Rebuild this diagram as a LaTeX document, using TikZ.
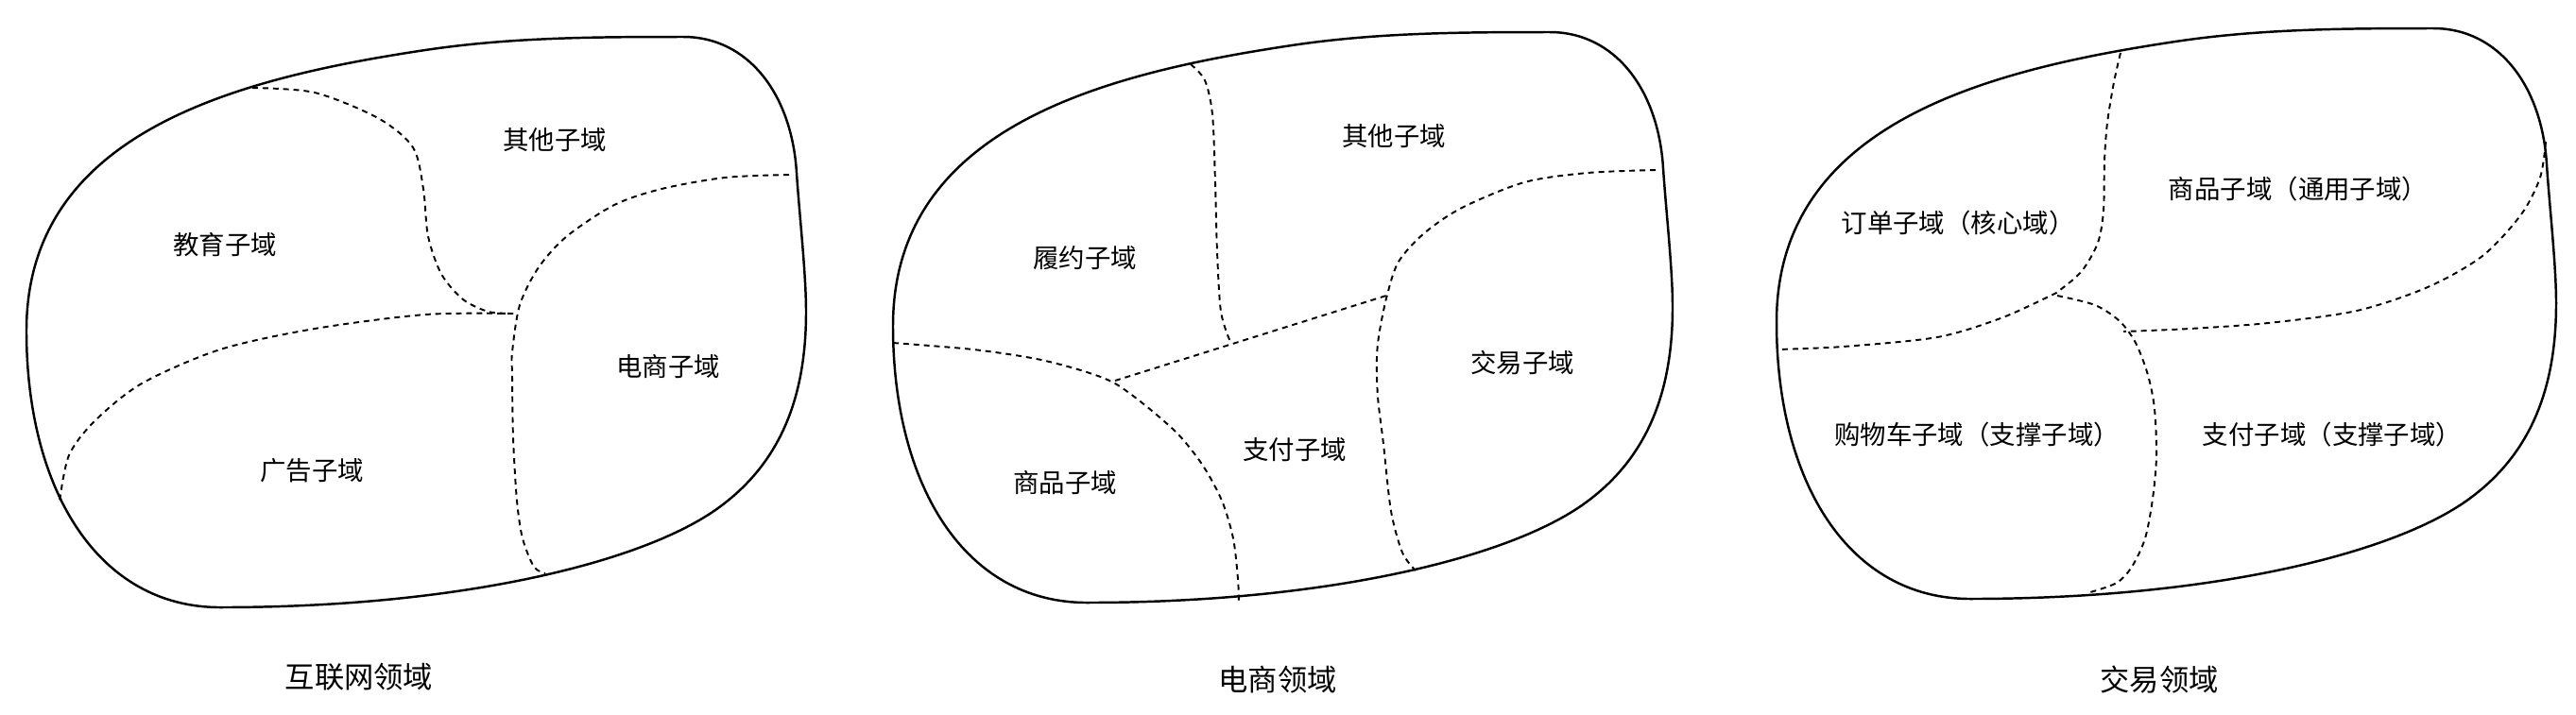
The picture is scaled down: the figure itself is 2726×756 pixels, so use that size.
\documentclass[tikz,border=0pt]{standalone}
\usepackage{fontspec}
\setmainfont{Noto Sans CJK SC}
\begin{document}
\begin{tikzpicture}[x=0.01cm,y=-0.01cm,
  outline/.style={line width=0.7pt,line join=round},
  divider/.style={line width=0.55pt,dash pattern=on 1.7pt off 1.4pt},
  lbl/.style={font=\fontsize{7.8pt}{9pt}\selectfont,inner sep=0pt},
  ttl/.style={font=\fontsize{8.9pt}{10pt}\selectfont,inner sep=0pt},
  blob/.pic={\draw[outline] (28,350)
    .. controls (28,140) and (250,83) .. (450,53)
    .. controls (540,39.5) and (630,39) .. (723,39)
    .. controls (792,39) and (838,100) .. (843,183)
    .. controls (846,228) and (853,290) .. (853,330)
    .. controls (853,419) and (827,491) .. (757,540)
    .. controls (675,597) and (483,643) .. (233,643)
    .. controls (104,643) and (28,519) .. (28,350) -- cycle;}
]
\fill[white] (0,0) rectangle (2726,756);
\useasboundingbox (0,0) rectangle (2726,756);

% ---------- diagram 1 ----------
\pic at (0,0) {blob};
\draw[divider] plot[smooth] coordinates {(267,93) (333,98) (400,125) (437,156) (448,200) (453,250) (467,290) (490,317) (517,330) (543,332)};
\draw[divider] plot[smooth] coordinates {(543,332) (450,333) (333,348) (233,370) (150,406) (100,446) (73,482) (63,531)};
\draw[divider] plot[smooth] coordinates {(835,185) (767,188) (700,200) (650,217) (600,250) (570,283) (550,323) (542,373) (542,397) (543,463) (547,530) (553,570) (565,600) (577,607)};
\node[lbl] (a1) at (587,148) {其他子域};
\node[lbl] (a2) at (238,259) {教育子域};
\node[lbl] (a3) at (707,388) {电商子域};
\node[lbl] (a4) at (330,498) {广告子域};
\node[ttl] (t1) at (380,717) {互联网领域};

% ---------- diagram 2 ----------
\pic at (917,-5) {blob};
\draw[divider] plot[smooth] coordinates {(1260,68) (1275,85) (1283,121) (1286,193) (1288,266) (1292,330) (1302,362)};
\draw[divider] (1180,403) -- (1470,312);
\draw[divider] plot[smooth] coordinates {(945,363) (1030,370) (1097,380) (1147,393) (1180,406) (1213,430) (1247,460) (1273,493) (1293,530) (1305,570) (1310,613) (1311,640)};
\draw[divider] plot[smooth] coordinates {(1752,180) (1680,183) (1613,193) (1547,220) (1507,247) (1480,277) (1468,312) (1460,350) (1457,378) (1458,420) (1464,470) (1472,541) (1484,585) (1498,604)};
\node[lbl] (b1) at (1475,144) {其他子域};
\node[lbl] (b2) at (1148,273) {履约子域};
\node[lbl] (b3) at (1611,384) {交易子域};
\node[lbl] (b4) at (1370,476) {支付子域};
\node[lbl] (b5) at (1127,511) {商品子域};
\node[ttl] (t2) at (1352,720) {电商领域};

% ---------- diagram 3 ----------
\pic at (1852,-9) {blob};
\draw[divider] plot[smooth] coordinates {(2244,56) (2237,87) (2230,130) (2227,170) (2226,223) (2220,257) (2203,287) (2180,307) (2170,313) (2117,337) (2050,357) (1950,367) (1880,370)};
\draw[divider] plot[smooth] coordinates {(2177,313) (2217,323) (2243,340) (2260,363) (2273,397) (2280,433) (2282,483) (2278,528) (2270,570) (2256,600) (2240,617) (2212,627)};
\draw[divider] plot[smooth] coordinates {(2694,150) (2688,188) (2668,227) (2627,271) (2569,304) (2494,329) (2400,342) (2317,348) (2247,351)};
\node[lbl] (c1) at (2432,200) {商品子域（通用子域）};
\node[lbl] (c2) at (2072,236) {订单子域（核心域）};
\node[lbl] (c3) at (2092,460) {购物车子域（支撑子域）};
\node[lbl] (c4) at (2468,460) {支付子域（支撑子域）};
\node[ttl] (t3) at (2285,720) {交易领域};
\end{tikzpicture}
\end{document}
